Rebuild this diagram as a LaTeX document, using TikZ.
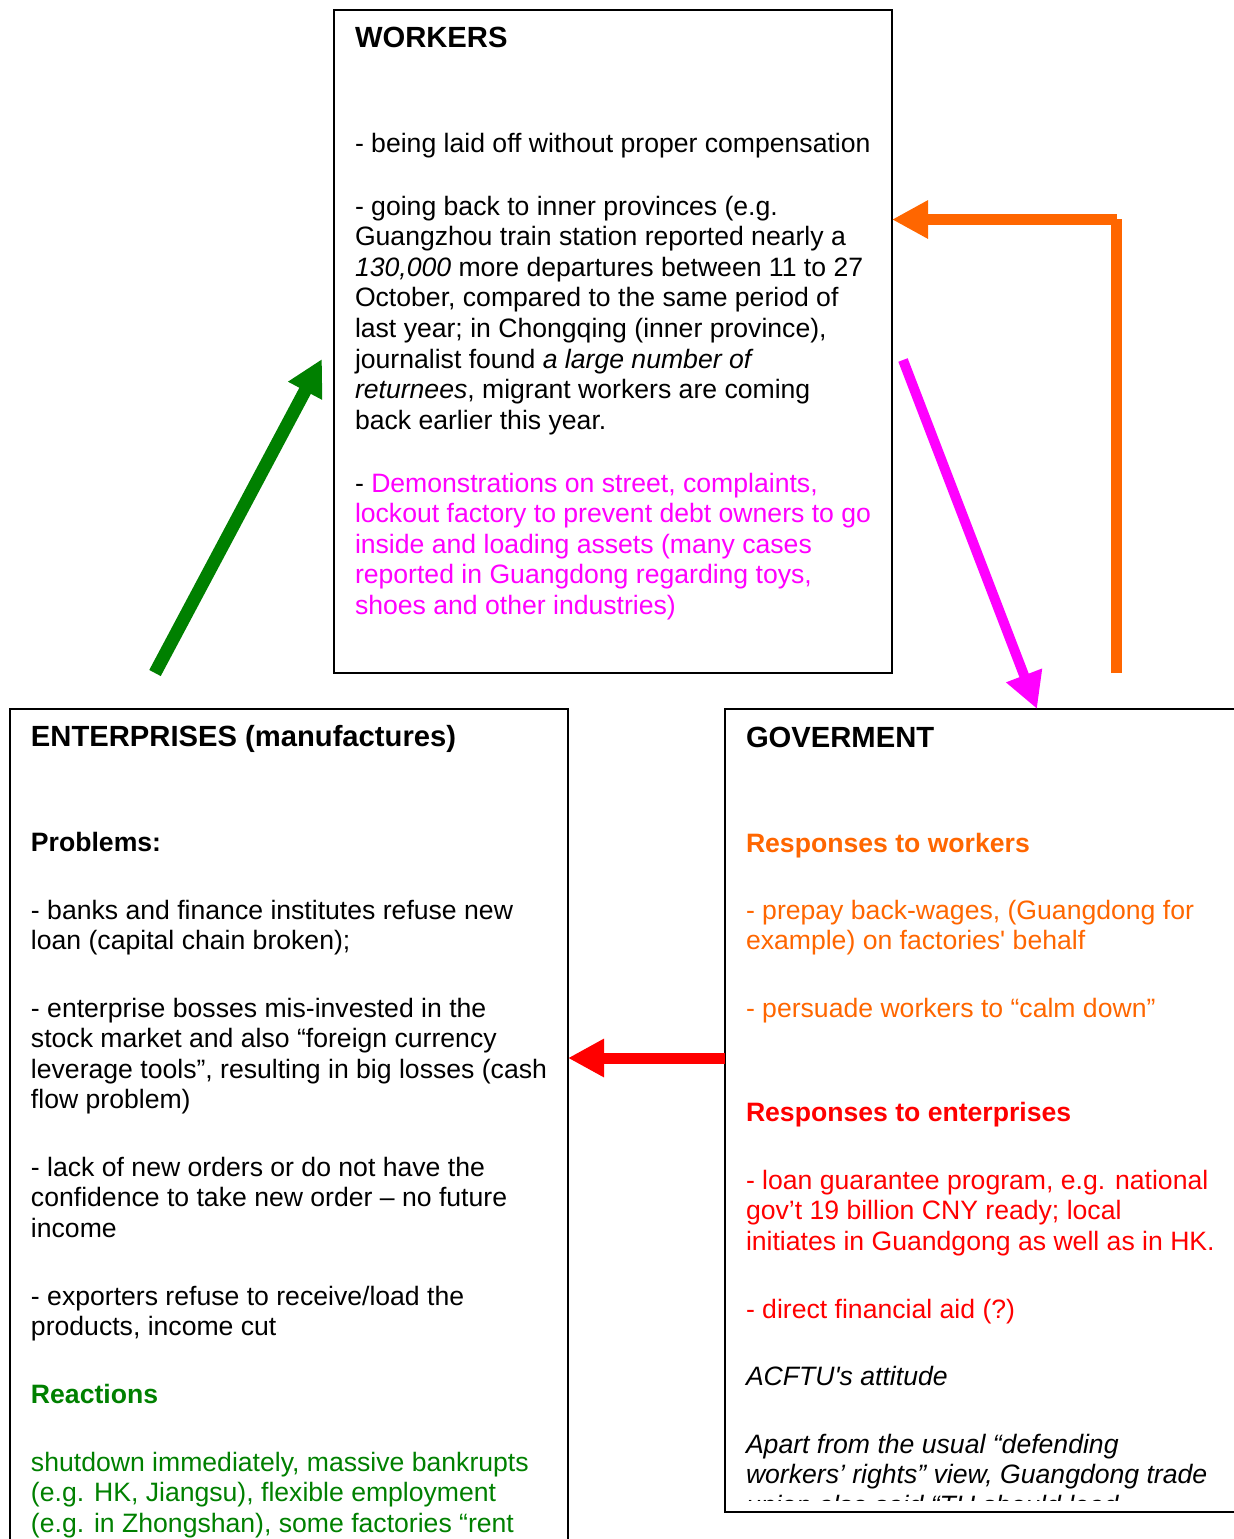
\documentclass[tikz,border=0pt]{standalone}
\usepackage{fontspec}
\setmainfont{Liberation Sans}[Ligatures=TeXOff]
\usetikzlibrary{arrows.meta}
\definecolor{dgreen}{RGB}{0,128,0}
\definecolor{orng}{RGB}{255,102,0}
\definecolor{mgnt}{RGB}{255,0,255}
\definecolor{rd}{RGB}{255,0,0}
% a paragraph with hand-set line breaks, hanging from its first baseline
\newcommand\lines[1]{\parbox[t]{320pt}{\raggedright #1}}

\begin{document}
\begin{tikzpicture}[x=0.5pt,y=-0.5pt,
  panel/.style={draw=black, line width=1pt, inner sep=0pt, outer sep=0pt, anchor=north west},
  txt/.style={anchor=base west, inner sep=0pt, outer sep=0pt,
              font=\fontsize{13.3pt}{15.3pt}\selectfont},
  head/.style={txt, font=\fontsize{13.3pt}{15.3pt}\selectfont\bfseries},
  title/.style={txt, font=\fontsize{14.6pt}{16.8pt}\selectfont\bfseries},
  flow/.style={line width=#1, line join=miter,
               -{Triangle[length=18pt,width=18pt]}},
]
\useasboundingbox (0,0) rectangle (1234,1539);
\clip (0,0) rectangle (1234,1539);

% ---- panels ----
\node[panel, minimum width=279pt, minimum height=331.5pt] (workers) at (334,10) {};
\node[panel, minimum width=279pt, minimum height=445.5pt] (ent) at (10,709) {};
\node[panel, minimum width=260pt, minimum height=401.5pt] (gov) at (725,709) {};

% ---- workers ----
\node[title] (wtitle) at (355,47) {WORKERS};
\node[txt] (w1) at (355,152) {\lines{- being laid off without proper compensation}};
\node[txt] (w2) at (355,215) {\lines{- going back to inner provinces (e.g.\\
Guangzhou train station reported nearly a\\
\textit{130,000} more departures between 11 to 27\\
October, compared to the same period of\\
last year; in Chongqing (inner province),\\
journalist found \textit{a large number of}\\
\textit{returnees}, migrant workers are coming\\
back earlier this year.}};
\node[txt, text=mgnt] (w3) at (355,492) {\lines{\textcolor{black}{-} Demonstrations on street, complaints,\\
lockout factory to prevent debt owners to go\\
inside and loading assets (many cases\\
reported in Guangdong regarding toys,\\
shoes and other industries)}};

% ---- enterprises ----
\node[title] (etitle) at (31,746) {ENTERPRISES (manufactures)};
\node[head] (eprob) at (31,851) {Problems:};
\node[txt] (e1) at (31,919) {\lines{- banks and finance institutes refuse new\\
loan (capital chain broken);}};
\node[txt] (e2) at (31,1017) {\lines{- enterprise bosses mis-invested in the\\
stock market and also “foreign currency\\
leverage tools”, resulting in big losses (cash\\
flow problem)}};
\node[txt] (e3) at (31,1176) {\lines{- lack of new orders or do not have the\\
confidence to take new order – no future\\
income}};
\node[txt] (e4) at (31,1305) {\lines{- exporters refuse to receive/load the\\
products, income cut}};
\node[head, text=dgreen] (ereact) at (31,1403) {Reactions};
\node[txt, text=dgreen] (e5) at (31,1471) {\lines{shutdown immediately, massive bankrupts\\
(e.g. HK, Jiangsu), flexible employment\\
(e.g. in Zhongshan), some factories “rent}};

% ---- government ----
\node[title] (gtitle) at (746,747) {GOVERMENT};
\node[head, text=orng] (gwork) at (746,852) {Responses to workers};
\node[txt, text=orng] (g1) at (746,919) {\lines{- prepay back-wages, (Guangdong for\\
example) on factories' behalf}};
\node[txt, text=orng] (g2) at (746,1017) {\lines{- persuade workers to “calm down”}};
\node[head, text=rd] (gent) at (746,1121) {Responses to enterprises};
\node[txt, text=rd] (g3) at (746,1189) {\lines{- loan guarantee program, e.g. national\\
gov’t 19 billion CNY ready; local\\
initiates in Guandgong as well as in HK.}};
\node[txt, text=rd] (g4) at (746,1318) {\lines{- direct financial aid (?)}};
\node[txt, font=\fontsize{13.3pt}{15.3pt}\selectfont\itshape] (gacf) at (746,1385) {ACFTU's attitude};
\begin{scope}
  \clip (725,709) rectangle (1234,1500);
  \node[txt, font=\fontsize{13.3pt}{15.3pt}\selectfont\itshape] (g5) at (746,1453) {\lines{Apart from the usual “defending\\
workers’ rights” view, Guangdong trade\\
union also said “TU should lead}};
\end{scope}

% ---- connectors ----
\coordinate (gtail) at (155,673);
\coordinate (gtip) at (322,359);
\draw[flow=6.5pt, dgreen] (gtail) -- (gtip);

\coordinate (mtail) at (903,360);
\draw[flow=5pt, mgnt] (mtail) -- (gov.north west -| 1037,0);

\coordinate (otail) at (1116.5,673);
\coordinate (obend) at (1116.5,219);
\draw[flow=5.5pt, orng] (otail) -- (obend) (1116.5,219.5) -- (workers.east |- 0,219.5);

\draw[flow=5.5pt, rd] (gov.north west |- 0,1058) -- (ent.north east |- 0,1058);
\end{tikzpicture}
\end{document}
